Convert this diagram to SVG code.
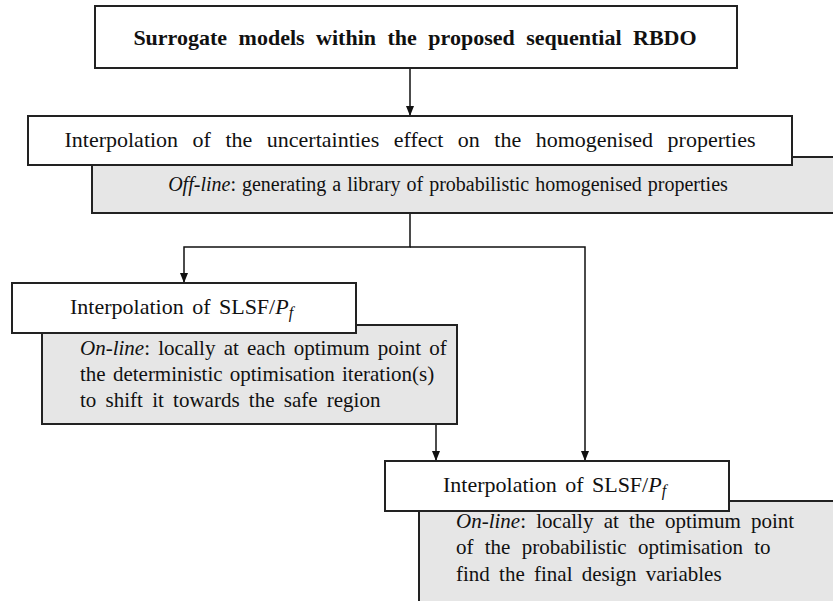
<svg xmlns="http://www.w3.org/2000/svg" width="833" height="601" viewBox="0 0 833 601">
<style>
.w{fill:#fff;stroke:#222;stroke-width:2}
.g{fill:#e6e6e6;stroke:#222;stroke-width:2}
.t{font-family:"Liberation Serif","Times New Roman",serif;fill:#111}
.b{font-weight:bold;font-size:22px;word-spacing:6px}
.h{font-size:22px;word-spacing:3px}
.s{font-size:21px;word-spacing:4px}
.c{fill:none;stroke:#111;stroke-width:1.5}
</style>
<defs>
<marker id="ah" markerWidth="10" markerHeight="10" refX="9" refY="5" orient="auto" markerUnits="userSpaceOnUse">
<path d="M0,1 L10,5 L0,9 Z" fill="#111"/>
</marker>
</defs>
<rect width="833" height="601" fill="#fff"/>
<g id="connectors">
<line class="c" x1="410" y1="69" x2="410" y2="115" marker-end="url(#ah)"/>
<polyline class="c" points="410,213 410,247 184,247 184,282" marker-end="url(#ah)"/>
<polyline class="c" points="410,247 585,247 585,460" marker-end="url(#ah)"/>
<line class="c" x1="436" y1="424" x2="436" y2="460" marker-end="url(#ah)"/>
</g>
<g id="title">
<rect class="w" x="95" y="6" width="642" height="62"/>
<text class="t b" x="415" y="45" text-anchor="middle">Surrogate models within the proposed sequential RBDO</text>
</g>
<g id="homogenised">
<rect class="g" x="92" y="157" width="745" height="56"/>
<rect class="w" x="28" y="116" width="764" height="49"/>
<text class="t h" x="410" y="147" text-anchor="middle" style="word-spacing:9px">Interpolation of the uncertainties effect on the homogenised properties</text>
<text class="t s" x="448" y="191" text-anchor="middle" style="font-size:20px;word-spacing:1px"><tspan font-style="italic">Off-line</tspan>: generating a library of probabilistic homogenised properties</text>
</g>
<g id="slsf1">
<rect class="g" x="42" y="325" width="415" height="99"/>
<rect class="w" x="12" y="283" width="344" height="50"/>
<text class="t h" x="70" y="314">Interpolation of SLSF/<tspan font-style="italic">P</tspan><tspan font-style="italic" font-size="16" dy="4">f</tspan></text>
<text class="t s" x="80" y="355" style="word-spacing:3px"><tspan font-style="italic">On-line</tspan>: locally at each optimum point of</text>
<text class="t s" x="80" y="381" style="word-spacing:2px">the deterministic optimisation iteration(s)</text>
<text class="t s" x="80" y="407">to shift it towards the safe region</text>
</g>
<g id="slsf2">
<rect class="g" x="419" y="501" width="420" height="110"/>
<rect class="w" x="385" y="461" width="344" height="50"/>
<text class="t h" x="443" y="492">Interpolation of SLSF/<tspan font-style="italic">P</tspan><tspan font-style="italic" font-size="16" dy="4">f</tspan></text>
<text class="t s" x="456" y="528" style="word-spacing:5px"><tspan font-style="italic">On-line</tspan>: locally at the optimum point</text>
<text class="t s" x="456" y="554" style="word-spacing:6px">of the probabilistic optimisation to</text>
<text class="t s" x="456" y="581">find the final design variables</text>
</g>
</svg>
